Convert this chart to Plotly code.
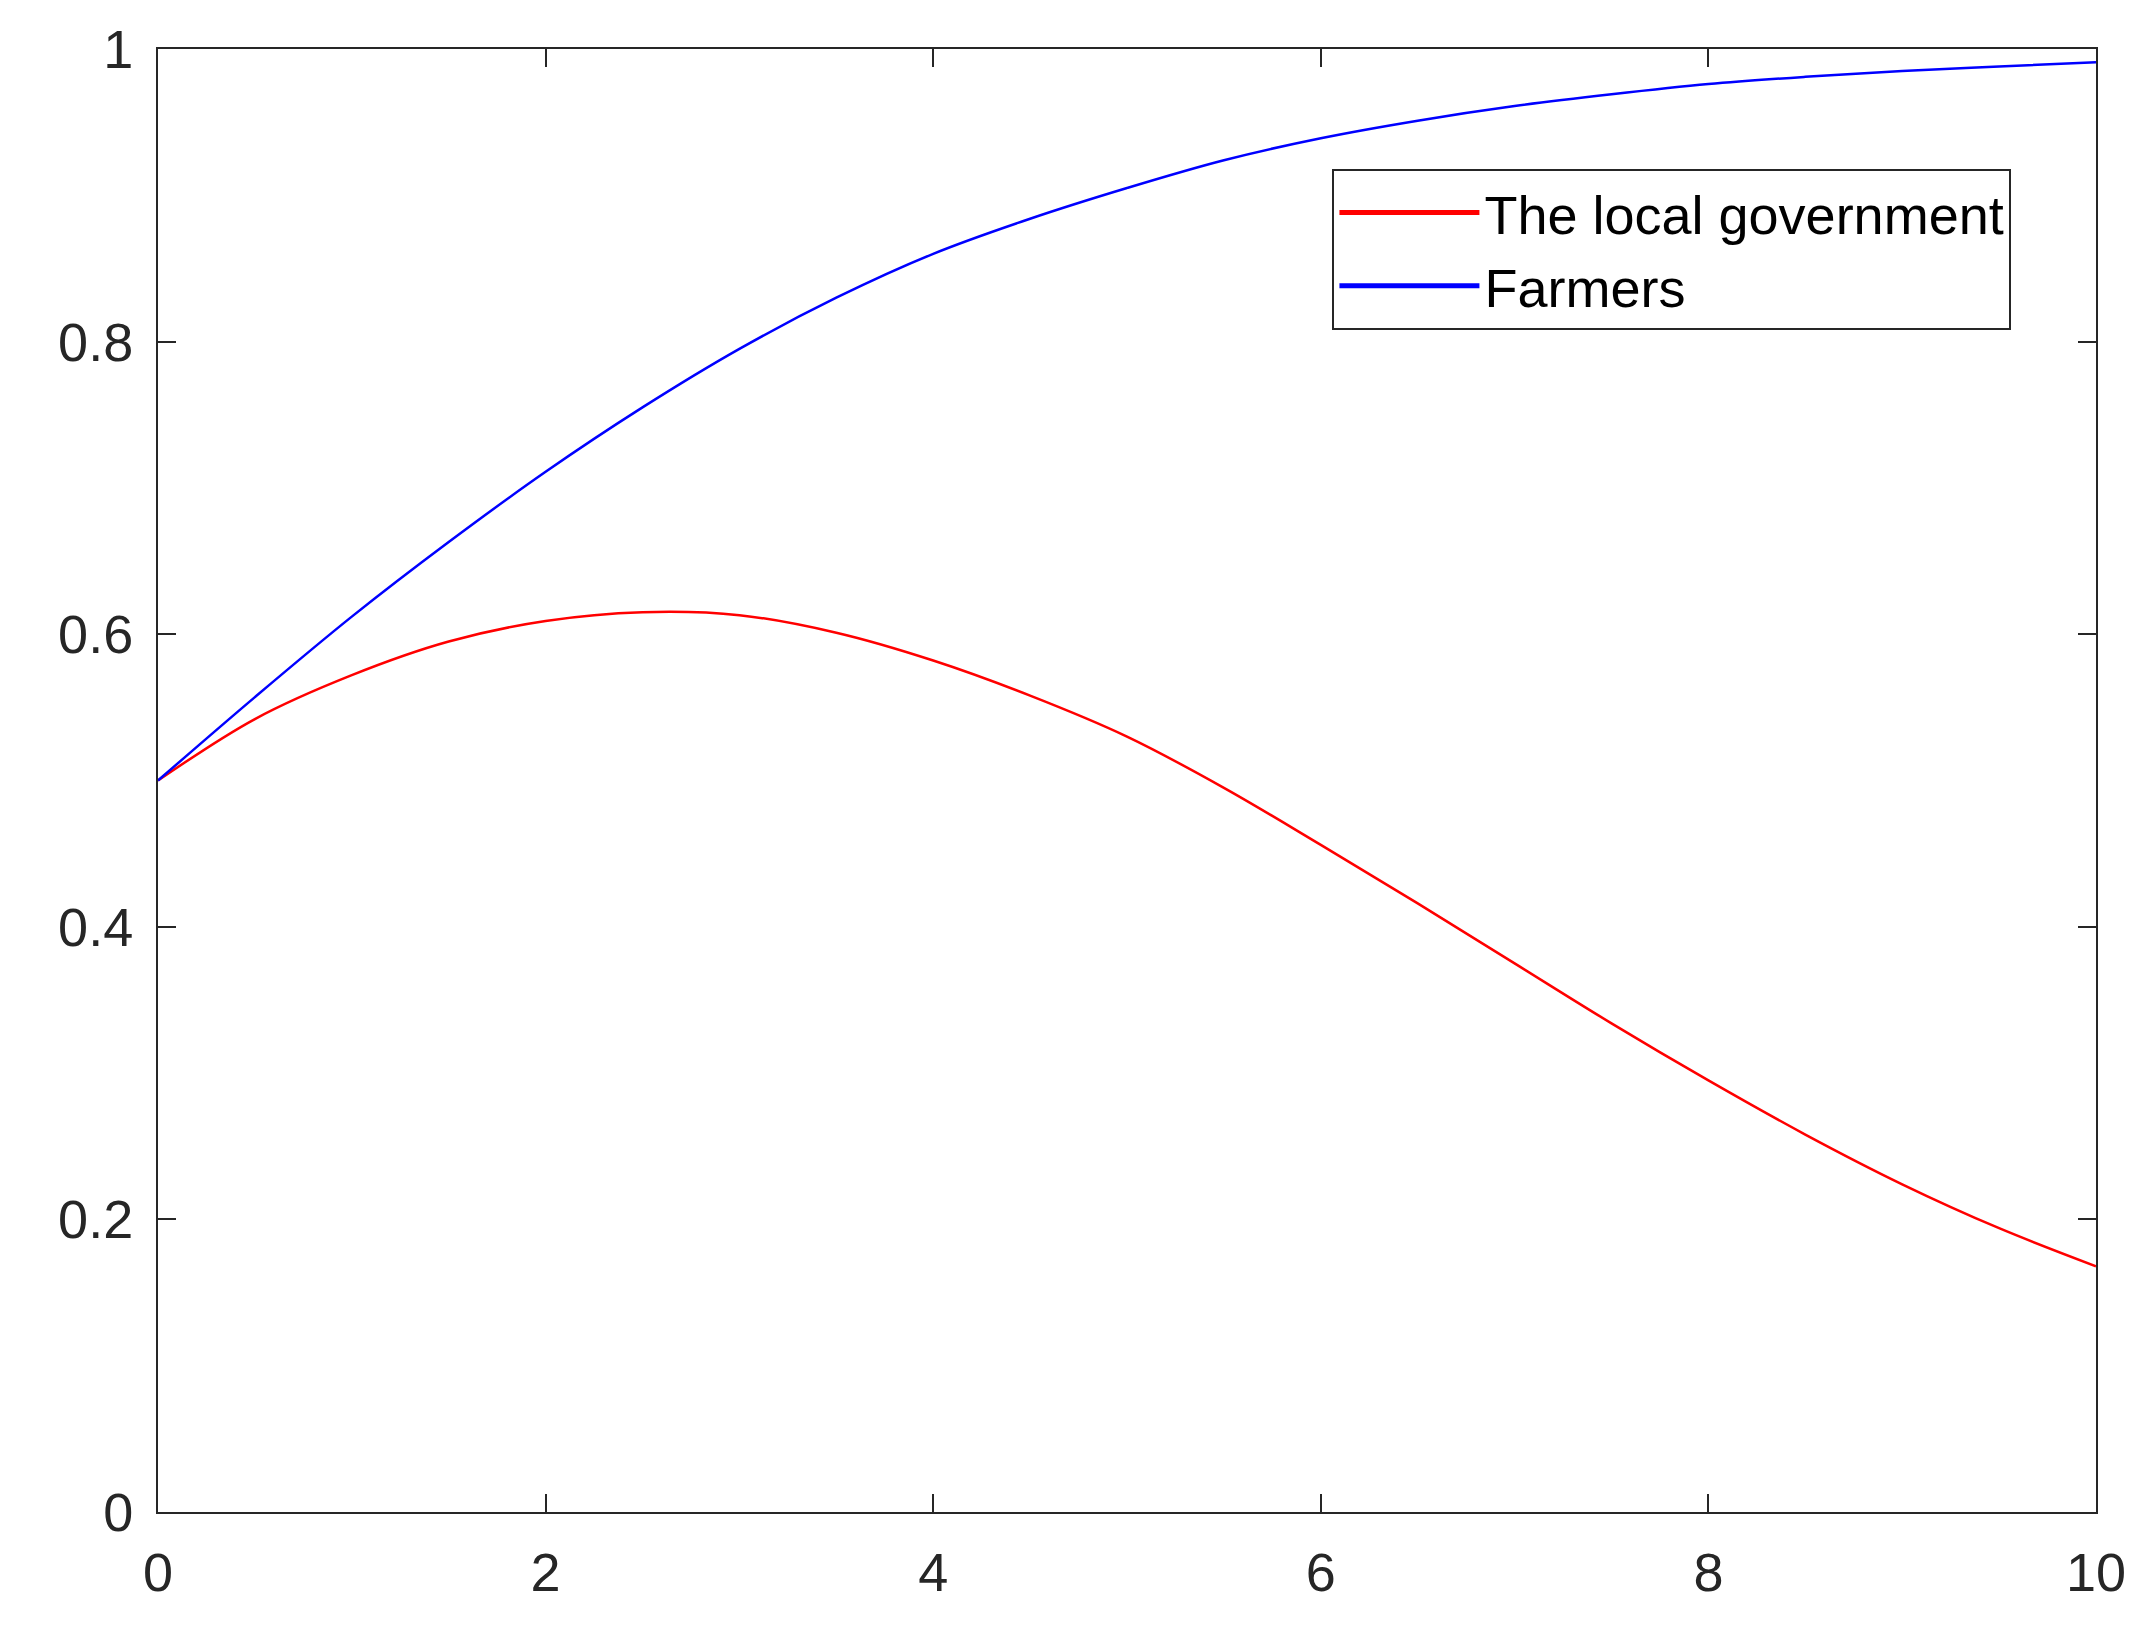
import plotly.graph_objects as go

t = [0, 0.5, 1, 1.5, 2, 2.5, 3, 3.5, 4, 4.5, 5, 5.5, 6, 6.5, 7, 7.5, 8, 8.5, 9, 9.5, 10]
gov = [0.5, 0.542, 0.572, 0.595, 0.609, 0.615, 0.613, 0.601, 0.582, 0.558, 0.530, 0.495, 0.456, 0.416, 0.375, 0.334, 0.295, 0.258, 0.224, 0.194, 0.168]
farm = [0.5, 0.557, 0.612, 0.663, 0.711, 0.755, 0.795, 0.830, 0.860, 0.884, 0.905, 0.924, 0.939, 0.951, 0.961, 0.969, 0.976, 0.981, 0.985, 0.988, 0.991]

fig = go.Figure()
fig.add_trace(go.Scatter(x=t, y=gov, mode="lines", name="The local government",
                         line=dict(color="#ff0000", width=2.5, shape="spline")))
fig.add_trace(go.Scatter(x=t, y=farm, mode="lines", name="Farmers",
                         line=dict(color="#0000ff", width=2.5, shape="spline")))
ax = dict(showgrid=False, zeroline=False, showline=True, linecolor="#262626", linewidth=2,
          mirror="ticks", ticks="inside", ticklen=18, tickwidth=2, tickcolor="#262626",
          ticklabelstandoff=12,
          tickfont=dict(family="Liberation Sans, Arial", size=54, color="#262626"))
fig.update_xaxes(range=[0, 10], dtick=2, **ax)
fig.update_yaxes(range=[0, 1], dtick=0.2, tickformat="~g", **ax)
fig.update_layout(width=2140, height=1632, plot_bgcolor="white", paper_bgcolor="white",
                  margin=dict(l=150, r=52, t=41, b=128),
                  legend=dict(x=0.606, xanchor="left", y=0.918, yanchor="top",
                              bgcolor="white", bordercolor="#262626", borderwidth=2,
                              tracegroupgap=0, itemsizing="constant",
                              font=dict(family="Liberation Sans, Arial", size=54, color="#000"),
                              itemwidth=140))
fig.write_html("out.html")
